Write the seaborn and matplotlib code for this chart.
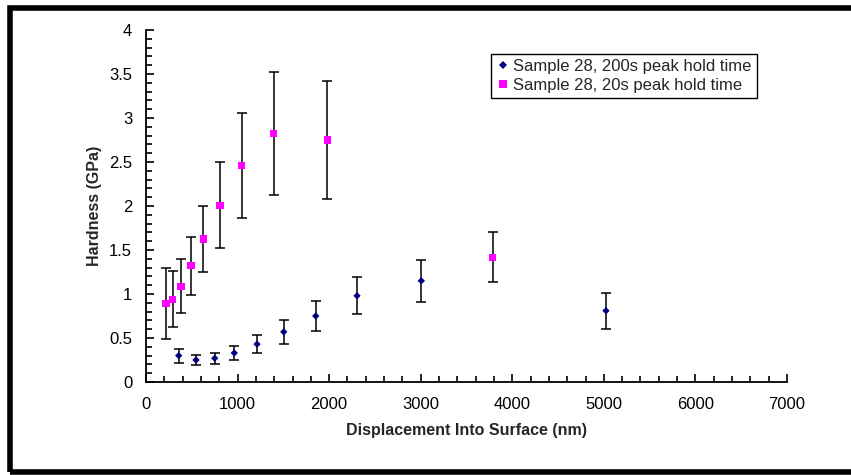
import pandas as pd
import seaborn as sns
import matplotlib.pyplot as plt
from matplotlib.patches import Rectangle
from matplotlib.ticker import MultipleLocator

# Sample 28, 200s peak hold time
disp_200 = [357, 546, 750, 964, 1212, 1504, 1853, 2304, 3006, 5023]
hard_200 = [0.30, 0.25, 0.27, 0.33, 0.43, 0.57, 0.75, 0.98, 1.15, 0.81]
err_200 = [0.08, 0.06, 0.065, 0.08, 0.10, 0.14, 0.17, 0.21, 0.24, 0.205]

# Sample 28, 20s peak hold time
disp_20 = [218, 291, 382, 491, 626, 808, 1045, 1394, 1980, 3785]
hard_20 = [0.89, 0.94, 1.09, 1.32, 1.625, 2.01, 2.46, 2.82, 2.75, 1.42]
err_20 = [0.40, 0.32, 0.31, 0.33, 0.38, 0.485, 0.60, 0.70, 0.665, 0.28]

labels = ["Sample 28, 200s peak hold time", "Sample 28, 20s peak hold time"]

df = pd.concat([
    pd.DataFrame({"disp": disp_200, "hard": hard_200, "err": err_200, "series": labels[0]}),
    pd.DataFrame({"disp": disp_20, "hard": hard_20, "err": err_20, "series": labels[1]}),
])

sns.set_style("white")
plt.rcParams["font.family"] = ["Liberation Sans", "DejaVu Sans"]

fig = plt.figure(figsize=(8.51, 4.75), dpi=100)
ax = fig.add_axes([0.1716, 0.1958, 0.7532, 0.741])

# error bars first so the markers sit on top
for name in labels:
    d = df[df["series"] == name]
    ax.errorbar(d["disp"], d["hard"], yerr=d["err"], fmt="none", ecolor="black",
                elinewidth=1.1, capsize=3.5, capthick=1.1, zorder=2)

sns.scatterplot(data=df, x="disp", y="hard", hue="series", style="series",
                palette={labels[0]: "#000080", labels[1]: "#FF00FF"},
                markers={labels[0]: "D", labels[1]: "s"},
                size="series", sizes={labels[0]: 14, labels[1]: 26},
                linewidth=0, ax=ax, zorder=3)

ax.set_xlim(0, 7000)
ax.set_ylim(0, 4)
ax.xaxis.set_major_locator(MultipleLocator(1000))
ax.xaxis.set_minor_locator(MultipleLocator(200))
ax.yaxis.set_major_locator(MultipleLocator(0.5))
ax.yaxis.set_minor_locator(MultipleLocator(0.1))
ax.yaxis.set_major_formatter(plt.FuncFormatter(lambda v, p: f"{v:g}"))
ax.tick_params(which="both", direction="in", colors="black", labelsize=12,
               width=1.2, bottom=True, left=True)
ax.tick_params(which="major", length=6)
ax.tick_params(which="minor", length=4)
ax.tick_params(axis="x", which="major", pad=11)
ax.tick_params(axis="y", which="major", pad=10)
for s in ["top", "right"]:
    ax.spines[s].set_visible(False)
for s in ["left", "bottom"]:
    ax.spines[s].set_color("black")
    ax.spines[s].set_linewidth(1.3)

ax.set_xlabel("Displacement Into Surface (nm)", fontsize=11.5, fontweight="bold", labelpad=8)
ax.set_ylabel("Hardness (GPa)", fontsize=11.5, fontweight="bold", labelpad=5)

handles, lbls = ax.get_legend_handles_labels()
leg = ax.legend(handles, lbls, loc="upper left", bbox_to_anchor=(0.538, 0.932),
                borderaxespad=0, fontsize=12, frameon=True, fancybox=False,
                framealpha=1, edgecolor="black", handletextpad=0.25,
                handlelength=0.8, borderpad=0.3, labelspacing=0.25, markerscale=1)
leg.get_frame().set_linewidth(1.0)

# thick frame around the whole chart area
fig.patches.append(Rectangle((0.0118, 0.0063), 1.2, 0.9777, transform=fig.transFigure,
                             fill=False, edgecolor="black", linewidth=4))

fig.savefig("out.png", dpi=100)
